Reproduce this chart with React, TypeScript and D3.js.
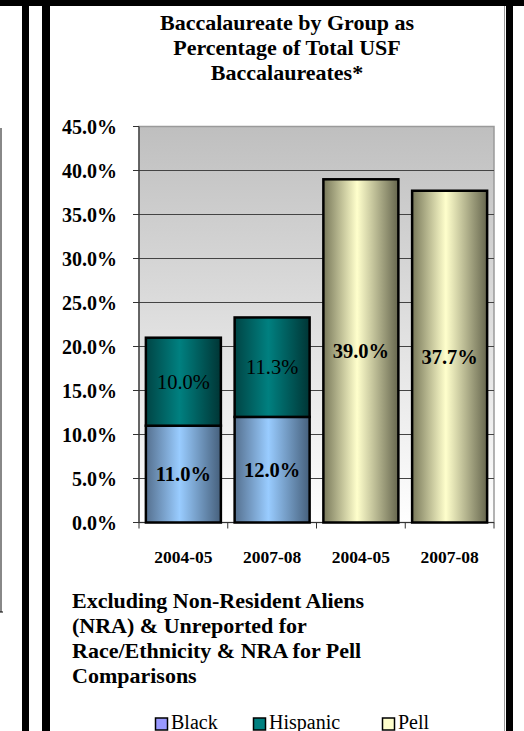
import React, { useRef, useEffect } from "react";
import * as d3 from "d3";

// values (percent of total USF baccalaureates)
const periods = ["2004-05", "2007-08"];
const blackValues = [11.0, 12.0];
const hispanicValues = [10.0, 11.3];
const pellValues = [39.0, 37.7];
const yTicks = [0, 5, 10, 15, 20, 25, 30, 35, 40, 45];
const titleLines = ["Baccalaureate by Group as", "Percentage of Total USF", "Baccalaureates*"];
const noteLines = [
  "Excluding Non-Resident Aliens",
  "(NRA) & Unreported for",
  "Race/Ethnicity & NRA for Pell",
  "Comparisons",
];
const legendItems = [
  { name: "Black", color: "#9999ff" },
  { name: "Hispanic", color: "#008080" },
  { name: "Pell", color: "#ffffcc" },
];

const W = 524;
const H = 731;
const FONT = "'Liberation Serif', 'Times New Roman', serif";

export default function App() {
  const ref = useRef<SVGSVGElement>(null);

  useEffect(() => {
    if (!ref.current) return;
    const svg = d3.select(ref.current);
    svg.selectAll("*").remove();

    // columns: race groups stacked for each period, then pell for each period
    const cols = [
      ...periods.map((p, i) => ({ key: "race-" + p, label: p, black: blackValues[i], hispanic: hispanicValues[i], pell: 0 })),
      ...periods.map((p, i) => ({ key: "pell-" + p, label: p, black: 0, hispanic: 0, pell: pellValues[i] })),
    ];

    const plot = { left: 139, right: 494, top: 126.5, bottom: 522.5 };
    const x = d3.scaleBand().domain(cols.map(d => d.key)).range([plot.left, plot.right])
      .paddingInner(0.155).paddingOuter(0.0775);
    const y = d3.scaleLinear().domain([0, 45]).range([plot.bottom, plot.top]);

    const defs = svg.append("defs");
    const bg = defs.append("linearGradient").attr("id", "bg").attr("x1", 0).attr("y1", 0).attr("x2", 0).attr("y2", 1);
    bg.append("stop").attr("offset", "0%").attr("stop-color", "#bfbfbf");
    bg.append("stop").attr("offset", "100%").attr("stop-color", "#ffffff");

    const grad = (id: string, edgeL: string, mid: string, edgeR: string) => {
      const g = defs.append("linearGradient").attr("id", id).attr("x1", 0).attr("y1", 0).attr("x2", 1).attr("y2", 0);
      g.append("stop").attr("offset", "0%").attr("stop-color", edgeL);
      g.append("stop").attr("offset", "45%").attr("stop-color", mid);
      g.append("stop").attr("offset", "100%").attr("stop-color", edgeR);
    };
    grad("gBlack", "#55708f", "#99ccff", "#46607c");
    grad("gHisp", "#004545", "#008080", "#003535");
    grad("gPell", "#78785a", "#ffffcc", "#66664e");

    // page frame decorations
    svg.append("rect").attr("x", 0).attr("y", 0).attr("width", W).attr("height", 6).attr("fill", "#000");
    svg.append("rect").attr("x", 22).attr("y", 0).attr("width", 7).attr("height", H).attr("fill", "#000");
    svg.append("rect").attr("x", 42).attr("y", 0).attr("width", 8).attr("height", H).attr("fill", "#000");
    svg.append("rect").attr("x", 506).attr("y", 0).attr("width", 7).attr("height", H).attr("fill", "#000");
    svg.append("line").attr("x1", 504.5).attr("x2", 504.5).attr("y1", 6).attr("y2", H).attr("stroke", "#999");
    svg.append("line").attr("x1", 1).attr("x2", 1).attr("y1", 128).attr("y2", 612).attr("stroke", "#888").attr("stroke-width", 2);
    svg.append("line").attr("x1", 0).attr("x2", 3).attr("y1", 612).attr("y2", 612).attr("stroke", "#000");

    // title
    svg.append("text").attr("text-anchor", "middle").attr("font-family", FONT)
      .attr("font-weight", "bold").attr("font-size", 22)
      .selectAll("tspan").data(titleLines).enter().append("tspan")
      .attr("x", 287).attr("y", (_, i) => 30 + i * 25).text(d => d);

    // plot area
    svg.append("rect").attr("x", plot.left).attr("y", plot.top)
      .attr("width", plot.right - plot.left).attr("height", plot.bottom - plot.top)
      .attr("fill", "url(#bg)").attr("stroke", "#9a9a9a").attr("stroke-width", 1.5);

    svg.append("g").selectAll("line").data(yTicks.filter(t => t > 0 && t < 45)).enter().append("line")
      .attr("x1", plot.left).attr("x2", plot.right).attr("y1", d => y(d)).attr("y2", d => y(d))
      .attr("stroke", "#444").attr("stroke-width", 1);

    // axes
    svg.append("line").attr("x1", plot.left).attr("x2", plot.left).attr("y1", plot.top).attr("y2", plot.bottom)
      .attr("stroke", "#333").attr("stroke-width", 1.2);
    svg.append("line").attr("x1", plot.left - 6).attr("x2", plot.right).attr("y1", plot.bottom).attr("y2", plot.bottom)
      .attr("stroke", "#333").attr("stroke-width", 1.2);
    svg.append("g").selectAll("line").data(yTicks).enter().append("line")
      .attr("x1", plot.left - 6).attr("x2", plot.left).attr("y1", d => y(d)).attr("y2", d => y(d))
      .attr("stroke", "#333");
    const bounds = [...cols.map(d => x(d.key)! - (x.step() - x.bandwidth()) / 2), plot.right];
    svg.append("g").selectAll("line").data(bounds).enter().append("line")
      .attr("x1", d => d).attr("x2", d => d).attr("y1", plot.bottom).attr("y2", plot.bottom + 6)
      .attr("stroke", "#333");

    svg.append("g").selectAll("text").data(yTicks).enter().append("text")
      .attr("x", 117).attr("y", d => y(d) + 7).attr("text-anchor", "end")
      .attr("font-family", FONT).attr("font-weight", "bold").attr("font-size", 20)
      .text(d => d.toFixed(1) + "%");

    svg.append("g").selectAll("text").data(cols).enter().append("text")
      .attr("x", d => x(d.key)! + x.bandwidth() / 2).attr("y", 563).attr("text-anchor", "middle")
      .attr("font-family", FONT).attr("font-weight", "bold").attr("font-size", 17.5)
      .text(d => d.label);

    // bars
    const stack = d3.stack<any>().keys(["black", "hispanic", "pell"]);
    const series = stack(cols);
    const fills: Record<string, string> = { black: "url(#gBlack)", hispanic: "url(#gHisp)", pell: "url(#gPell)" };
    const weights: Record<string, string> = { black: "bold", hispanic: "normal", pell: "bold" };

    series.forEach(s => {
      const segs = s.filter(d => d[1] - d[0] > 0);
      const g = svg.append("g");
      g.selectAll("rect").data(segs).enter().append("rect")
        .attr("x", d => x(d.data.key)!).attr("width", x.bandwidth())
        .attr("y", d => y(d[1])).attr("height", d => y(d[0]) - y(d[1]))
        .attr("fill", fills[s.key]).attr("stroke", "#000").attr("stroke-width", 2.5);
      g.selectAll("text").data(segs).enter().append("text")
        .attr("x", d => x(d.data.key)! + x.bandwidth() / 2)
        .attr("y", d => (y(d[0]) + y(d[1])) / 2 + 7)
        .attr("text-anchor", "middle").attr("font-family", FONT)
        .attr("font-weight", weights[s.key]).attr("font-size", 20.5).attr("fill", "#000")
        .text(d => (d[1] - d[0]).toFixed(1) + "%");
    });

    // footnote
    svg.append("text").attr("font-family", FONT).attr("font-weight", "bold").attr("font-size", 22)
      .selectAll("tspan").data(noteLines).enter().append("tspan")
      .attr("x", 72).attr("y", (_, i) => 608 + i * 25).text(d => d);

    // legend (sits at the bottom edge, as in the reference)
    const lx = [155, 253, 382];
    const lg = svg.append("g").selectAll("g").data(legendItems).enter().append("g")
      .attr("transform", (_, i) => `translate(${lx[i]},0)`);
    lg.append("rect").attr("x", 0.5).attr("y", 718).attr("width", 12).attr("height", 12)
      .attr("fill", d => d.color).attr("stroke", "#000").attr("stroke-width", 1.5);
    lg.append("text").attr("x", 16).attr("y", 728.5).attr("font-family", FONT).attr("font-size", 20)
      .text(d => d.name);
  }, []);

  return (
    <div style={{ position: "absolute", left: 0, top: 0, width: W, height: H, background: "#fff" }}>
      <svg ref={ref} width={W} height={H} style={{ display: "block" }} />
    </div>
  );
}
